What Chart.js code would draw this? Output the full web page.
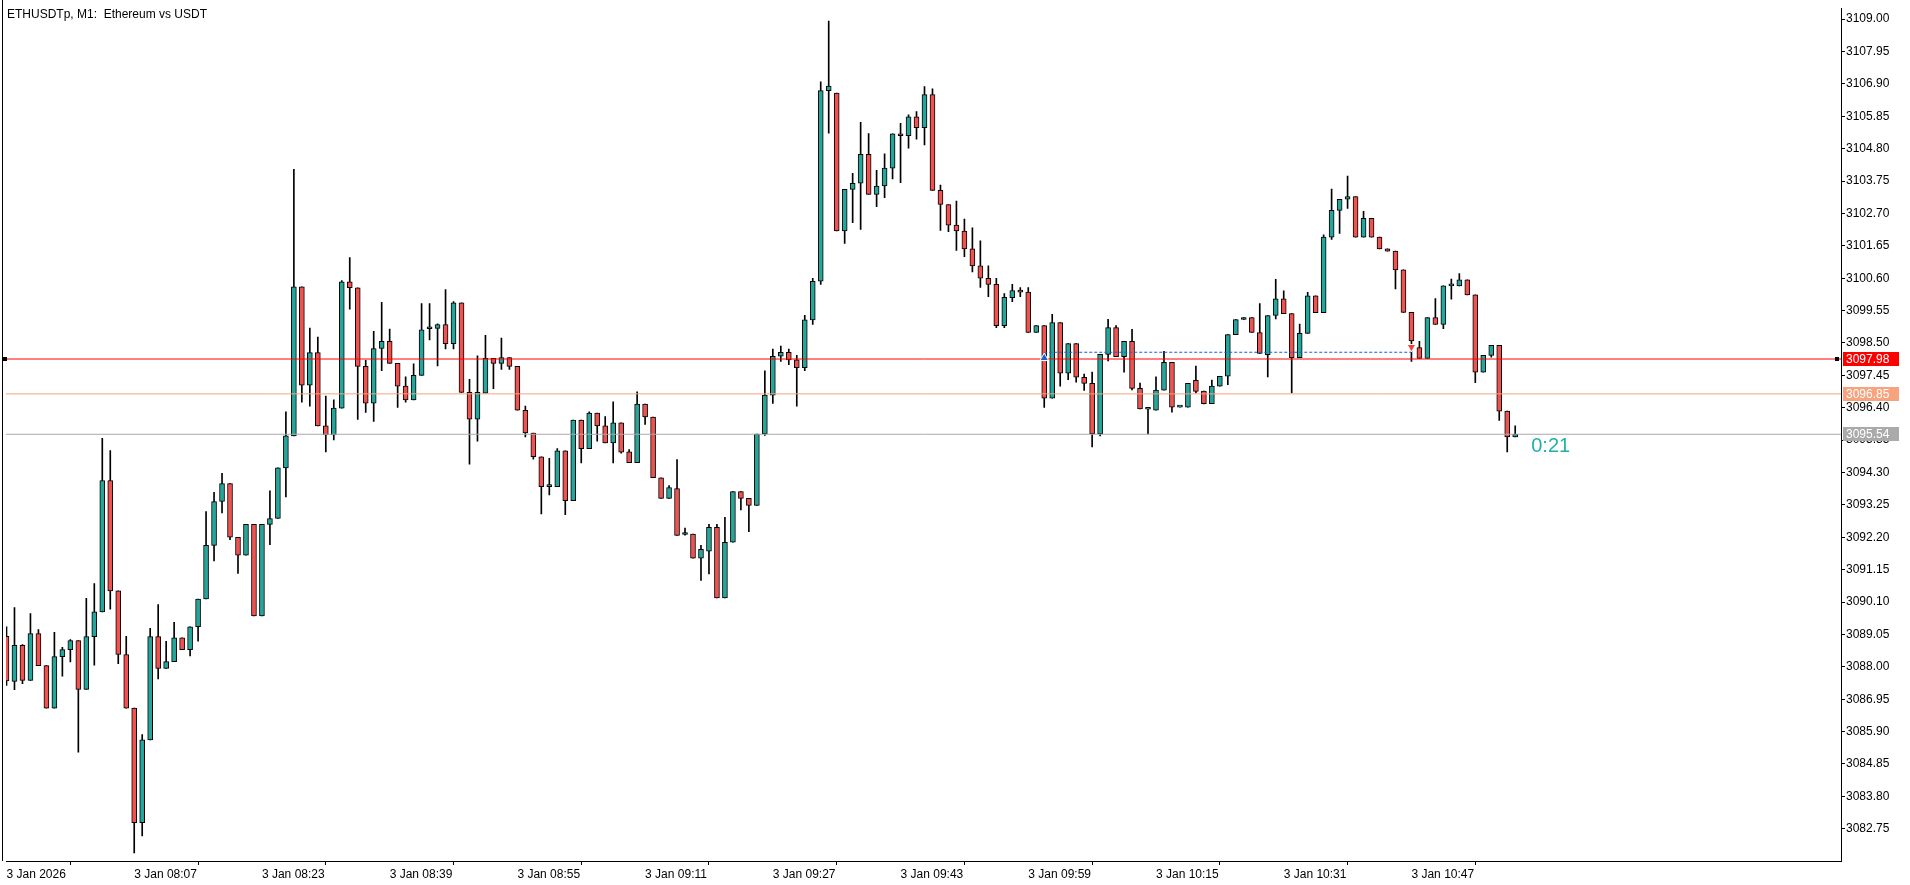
<!DOCTYPE html>
<html><head><meta charset="utf-8">
<style>html,body{margin:0;padding:0;background:#fff;overflow:hidden}canvas{display:block}</style>
</head><body>
<canvas id="c" width="1910" height="885"></canvas>
<script src="https://cdn.jsdelivr.net/npm/chart.js@4.4.1/dist/chart.umd.min.js"></script>
<script>
const titleText = 'ETHUSDTp, M1:  Ethereum vs USDT';
const timerText = '0:21';
const timeTickIdx = [0,16,32,48,64,80,96,112,128,144,160,176];
const timeTickText = ['3 Jan 2026','3 Jan 08:07','3 Jan 08:23','3 Jan 08:39','3 Jan 08:55','3 Jan 09:11','3 Jan 09:27','3 Jan 09:43','3 Jan 09:59','3 Jan 10:15','3 Jan 10:31','3 Jan 10:47'];
const priceTicks = [3109.00,3107.95,3106.90,3105.85,3104.80,3103.75,3102.70,3101.65,3100.60,3099.55,3098.50,3097.45,3096.40,3095.35,3094.30,3093.25,3092.20,3091.15,3090.10,3089.05,3088.00,3086.95,3085.90,3084.85,3083.80,3082.75];
const priceLevels = [3097.98, 3096.85, 3095.54];
const tradeOpenIdx = 130, tradeCloseIdx = 176;
const tradePrice = 3098.20;
const buyArrowPrice = 3098.01, sellArrowPrice = 3098.37;

const opens = [
3088.99,3087.53,3088.70,3087.56,3089.08,3088.04,3086.66,3088.33,3088.56,3088.85,
3087.27,3088.98,3089.78,3094.04,3090.46,3088.40,3086.66,3082.95,3085.63,3088.98,
3087.95,3088.17,3088.94,3088.56,3089.30,3090.20,3091.94,3093.36,3093.94,3092.20,
3091.62,3092.62,3089.65,3092.62,3092.81,3094.45,3095.49,3100.32,3097.13,3098.19,
3095.81,3095.52,3096.39,3100.48,3100.29,3097.74,3096.55,3098.32,3098.55,3097.84,
3097.10,3096.65,3097.45,3098.96,3098.97,3099.10,3098.48,3099.80,3096.90,3096.03,
3096.87,3098.00,3097.84,3098.03,3097.74,3096.32,3095.58,3094.81,3093.84,3093.84,
3095.00,3093.39,3096.00,3095.07,3096.23,3095.81,3095.26,3095.91,3094.97,3094.62,
3096.52,3096.10,3094.13,3093.46,3093.78,3092.29,3092.30,3091.52,3091.75,3092.52,
3090.23,3092.04,3093.68,3093.46,3093.23,3095.55,3096.81,3098.07,3098.20,3097.95,
3097.70,3099.25,3100.50,3106.68,3106.60,3102.13,3103.48,3103.68,3104.62,3103.32,
3103.59,3104.17,3105.28,3105.22,3105.83,3105.48,3106.55,3103.45,3102.99,3102.32,
3102.13,3101.55,3101.00,3100.60,3100.40,3099.06,3099.97,3100.20,3100.15,3098.84,
3099.06,3096.71,3099.16,3097.52,3098.48,3097.39,3097.19,3095.55,3098.13,3099.00,
3098.06,3098.55,3097.03,3096.35,3096.32,3096.97,3097.87,3096.42,3096.42,3097.29,
3096.94,3096.53,3097.10,3097.42,3098.77,3099.26,3099.32,3098.84,3098.12,3099.39,
3099.93,3099.45,3098.02,3098.81,3100.03,3099.48,3101.93,3102.80,3103.16,3103.25,
3101.93,3102.54,3101.93,3101.55,3101.48,3100.87,3099.49,3098.35,3098.00,3099.32,
3099.10,3100.35,3100.35,3100.55,3100.06,3097.55,3098.10,3098.42,3096.29,3095.45];
const highs = [
3089.30,3089.92,3088.72,3089.73,3089.21,3088.04,3089.12,3088.63,3088.88,3088.85,
3090.22,3090.70,3095.41,3095.01,3090.46,3088.99,3086.66,3085.80,3089.25,3090.02,
3088.83,3089.44,3088.94,3089.30,3090.20,3093.03,3093.66,3094.27,3093.94,3092.20,
3092.62,3092.62,3092.62,3093.71,3094.45,3096.27,3104.13,3100.32,3098.98,3098.69,
3096.78,3096.66,3100.52,3101.27,3100.29,3097.94,3098.88,3099.82,3098.95,3097.84,
3097.40,3097.82,3099.78,3099.78,3099.12,3100.23,3099.84,3099.80,3097.32,3098.08,
3098.75,3098.00,3098.66,3098.03,3097.74,3096.45,3095.58,3094.81,3094.76,3095.08,
3095.00,3096.00,3096.00,3096.27,3096.23,3096.11,3096.59,3095.91,3095.04,3096.92,
3096.52,3096.10,3094.13,3093.88,3094.72,3092.50,3092.30,3091.94,3092.62,3092.62,
3092.85,3093.68,3093.68,3093.46,3095.55,3097.60,3098.30,3098.40,3098.30,3098.10,
3099.40,3100.60,3106.97,3108.94,3106.60,3103.48,3104.00,3105.65,3105.29,3104.10,
3104.63,3105.28,3105.62,3105.90,3106.00,3106.81,3106.74,3103.62,3102.99,3103.10,
3102.52,3102.23,3101.81,3101.00,3100.60,3100.10,3100.40,3100.30,3100.30,3099.06,
3099.06,3099.43,3099.16,3098.48,3098.48,3097.49,3097.56,3098.13,3099.27,3099.06,
3098.55,3098.94,3097.20,3096.36,3097.40,3098.23,3097.87,3096.42,3097.19,3097.75,
3096.94,3097.30,3097.42,3098.77,3099.26,3099.32,3099.32,3099.78,3099.39,3100.56,
3100.19,3099.45,3099.11,3100.14,3100.03,3102.01,3103.49,3103.16,3103.91,3103.25,
3102.77,3102.54,3101.93,3101.55,3101.48,3100.87,3099.49,3098.55,3099.32,3099.94,
3100.35,3100.57,3100.75,3100.55,3100.06,3098.10,3098.42,3098.42,3096.29,3095.81];
const lows = [
3087.40,3087.26,3087.45,3087.56,3088.04,3086.66,3086.66,3087.70,3088.16,3085.23,
3087.27,3088.05,3089.78,3089.87,3088.10,3086.66,3081.97,3082.52,3085.63,3087.61,
3087.95,3088.17,3088.56,3088.35,3088.83,3090.20,3091.43,3092.99,3092.12,3091.03,
3091.62,3089.65,3089.65,3091.96,3092.81,3093.51,3095.49,3096.58,3096.45,3095.81,
3094.97,3095.36,3096.39,3099.60,3096.02,3096.25,3095.96,3097.60,3097.84,3096.41,
3096.58,3096.65,3097.45,3098.60,3097.76,3098.31,3098.31,3096.90,3094.57,3095.32,
3096.87,3097.02,3097.64,3097.64,3096.32,3095.45,3094.73,3092.96,3093.57,3093.84,
3092.93,3093.39,3094.61,3095.07,3095.32,3095.26,3094.61,3094.93,3094.62,3094.62,
3095.86,3094.13,3093.46,3093.46,3092.26,3092.27,3091.52,3090.80,3091.01,3090.23,
3090.23,3092.04,3093.09,3092.38,3093.23,3095.50,3096.54,3097.90,3097.80,3096.45,
3097.60,3099.10,3100.40,3105.30,3102.13,3101.73,3102.40,3102.18,3103.32,3102.92,
3103.21,3103.82,3103.70,3104.82,3105.11,3104.92,3103.45,3102.15,3102.11,3101.50,
3101.30,3100.80,3100.30,3100.00,3099.00,3099.00,3099.84,3100.00,3098.84,3098.84,
3096.41,3096.71,3097.10,3097.31,3097.23,3096.96,3095.13,3095.49,3097.92,3098.06,
3097.55,3096.98,3096.36,3095.55,3096.32,3096.97,3096.26,3096.42,3096.42,3096.88,
3096.52,3096.53,3097.10,3097.15,3098.77,3099.26,3098.84,3098.16,3097.40,3099.28,
3099.45,3096.88,3098.02,3098.81,3099.48,3099.48,3101.86,3102.05,3102.86,3101.93,
3101.93,3101.93,3101.55,3101.48,3100.25,3099.49,3097.90,3098.00,3098.00,3099.10,
3098.96,3099.92,3100.35,3100.06,3097.21,3097.55,3098.04,3095.99,3094.97,3095.45];
const closes = [
3087.54,3088.70,3087.56,3089.08,3088.04,3086.66,3088.33,3088.56,3088.85,3087.27,
3088.98,3089.78,3094.04,3090.46,3088.40,3086.66,3082.95,3085.63,3088.98,3087.95,
3088.17,3088.94,3088.56,3089.30,3090.20,3091.94,3093.36,3093.94,3092.20,3091.62,
3092.62,3089.65,3092.62,3092.81,3094.45,3095.49,3100.32,3097.13,3098.19,3095.81,
3095.52,3096.39,3100.48,3100.29,3097.74,3096.55,3098.32,3098.55,3097.84,3097.10,
3096.65,3097.45,3098.93,3098.96,3099.10,3098.48,3099.80,3096.90,3096.03,3096.90,
3098.00,3097.84,3098.03,3097.74,3096.32,3095.58,3094.81,3093.84,3093.84,3095.00,
3093.39,3096.00,3095.07,3096.23,3095.81,3095.26,3095.91,3094.96,3094.62,3096.52,
3096.10,3094.13,3093.46,3093.81,3092.26,3092.29,3091.52,3091.81,3092.52,3090.23,
3092.04,3093.68,3093.46,3093.23,3095.55,3096.81,3098.07,3098.20,3097.95,3097.70,
3099.25,3100.50,3106.68,3106.83,3102.13,3103.48,3103.68,3104.62,3103.32,3103.59,
3104.17,3105.28,3105.22,3105.83,3105.48,3106.55,3103.45,3102.99,3102.32,3102.13,
3101.55,3101.00,3100.60,3100.40,3099.06,3099.98,3100.20,3100.15,3098.84,3099.06,
3096.71,3099.16,3097.52,3098.48,3097.39,3097.19,3095.55,3098.13,3099.00,3098.06,
3098.55,3097.03,3096.36,3096.35,3096.97,3097.87,3096.42,3096.42,3097.19,3096.93,
3096.53,3097.10,3097.42,3098.77,3099.26,3099.32,3098.84,3098.16,3099.39,3099.93,
3099.45,3098.02,3098.81,3100.03,3099.48,3101.93,3102.80,3103.16,3103.25,3101.93,
3102.54,3101.93,3101.55,3101.48,3100.87,3099.49,3098.57,3098.00,3099.32,3099.10,
3100.35,3100.35,3100.55,3100.06,3097.55,3098.10,3098.42,3096.29,3095.45,3095.54];

const BULL = '#26a69a', BEAR = '#ef5350';
const levelColors = ['#ff0000', '#f7a37e', '#aaaaaa'];
const FONT = '"Liberation Sans", Arial, sans-serif';

Chart.defaults.font.family = FONT;
Chart.defaults.font.size = 12;
Chart.defaults.color = '#000';

const X_MIN = -0.0625, X_MAX = -0.0625 + 1839/8;
const Y_MIN = 3081.704, Y_MAX = 3109.3545;

const bodyData = opens.map((o,i)=>({x:i, y:[o, closes[i]]}));
const wickData = lows.map((l,i)=>({x:i, y:[l, highs[i]]}));
const bodyColors = opens.map((o,i)=> closes[i] >= o ? BULL : BEAR);

const levelSets = priceLevels.map((v,i)=>({
  type:'line', data:[{x:X_MIN-1,y:v},{x:X_MAX+1,y:v}], borderColor:levelColors[i], borderWidth:1,
  pointRadius:0, order:-1 - i
}));

const decor = {
  id:'decor',
  afterDraw(chart){
    const {ctx, chartArea:a, scales:{x, y}} = chart;
    ctx.save();
    ctx.fillStyle = '#000';
    ctx.fillRect(2, 0, 1, a.bottom);
    ctx.font = '12px ' + FONT;
    ctx.textBaseline = 'middle'; ctx.textAlign = 'left';
    ctx.fillText(titleText, 7, 15);
    const yb = Math.round(y.getPixelForValue(priceLevels[0]));
    ctx.fillRect(3, yb-2, 4, 4);
    ctx.fillRect(a.right-6, yb-2, 4, 4);
    const order = [2,1,0];
    order.forEach(i=>{
      const v = priceLevels[i];
      const py = Math.round(y.getPixelForValue(v));
      ctx.fillStyle = levelColors[i];
      ctx.fillRect(a.right+2, py-7, 56, 14);
      ctx.fillStyle = '#fff';
      ctx.fillText(v.toFixed(2), a.right+5, py+0.5);
    });
    ctx.fillStyle = '#20b2aa';
    ctx.font = '20px ' + FONT;
    const xt = x.getPixelForValue(opens.length-1) + 16;
    ctx.fillText(timerText, xt, y.getPixelForValue(priceLevels[2]) + 12);
    ctx.restore();
  }
};

new Chart(document.getElementById('c'), {
  type:'bar',
  data:{datasets:[
    ...levelSets,
    {type:'line', data:[{x:tradeOpenIdx,y:tradePrice},{x:tradeCloseIdx,y:tradePrice}], borderColor:'#1e64c0', borderWidth:1.2, borderDash:[3,2], pointRadius:0, order:-5},
    {type:'line', showLine:false, data:[{x:tradeOpenIdx,y:buyArrowPrice}], pointStyle:'triangle', rotation:0, pointRadius:5, backgroundColor:'#1565c0', borderColor:'#ffffff', borderWidth:1, order:-6},
    {type:'line', showLine:false, data:[{x:tradeCloseIdx,y:sellArrowPrice}], pointStyle:'triangle', rotation:180, pointRadius:5, backgroundColor:'#f04040', borderColor:'#ffffff', borderWidth:1, order:-6},
    {label:'body', data:bodyData, backgroundColor:bodyColors, borderColor:'#000', borderWidth:1, borderSkipped:false, barThickness:5, minBarLength:2, grouped:false, order:0},
    {label:'wick', data:wickData, backgroundColor:'#000', borderWidth:0, barThickness:1, grouped:false, order:1}
  ]},
  options:{
    responsive:false, animation:false, events:[],
    devicePixelRatio:1,
    layout:{padding:{left:2, top:3, right:0, bottom:0}},
    plugins:{legend:{display:false}, tooltip:{enabled:false}, title:{display:false}},
    scales:{
      x:{type:'linear', min:X_MIN, max:X_MAX, offset:false,
        afterBuildTicks:(s)=>{ s.ticks = timeTickIdx.map(v=>({value:v})); },
        afterFit:(s)=>{ s.height = 24; },
        ticks:{autoSkip:false, maxRotation:0, minRotation:0, align:'start', padding:2, color:'#000',
          callback:(v)=>{ const i = timeTickIdx.indexOf(v); return i>=0 ? timeTickText[i] : ''; }},
        grid:{drawOnChartArea:false, drawTicks:true, tickLength:4, color:'#000'},
        border:{display:true, color:'#000'}
      },
      y:{type:'linear', position:'right', min:Y_MIN, max:Y_MAX, beginAtZero:false,
        afterBuildTicks:(s)=>{ s.ticks = priceTicks.map(v=>({value:v})); },
        afterFit:(s)=>{ s.width = 69; },
        ticks:{autoSkip:false, padding:1, color:'#000', callback:(v)=> Number(v).toFixed(2)},
        grid:{drawOnChartArea:false, drawTicks:true, tickLength:4, color:'#000'},
        border:{display:true, color:'#000'}
      }
    }
  },
  plugins:[decor]
});
</script>
</body></html>
